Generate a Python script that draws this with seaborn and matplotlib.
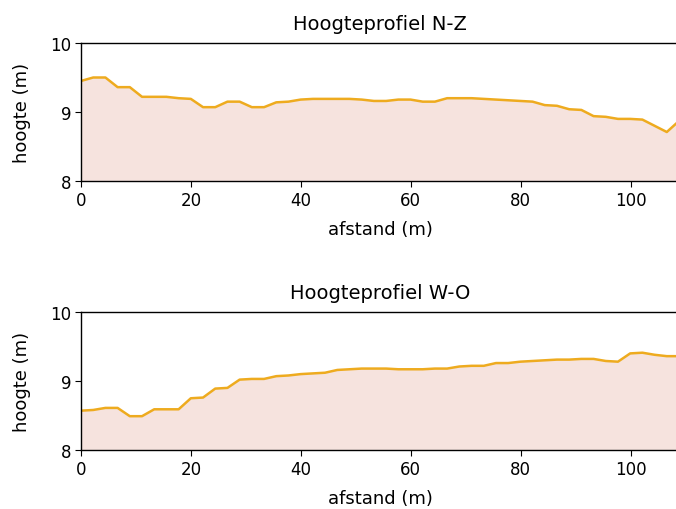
import matplotlib
matplotlib.use("Agg")
import matplotlib.pyplot as plt
import seaborn as sns
import pandas as pd

afstand = [0.0, 2.22, 4.44, 6.66, 8.88, 11.1, 13.32, 15.54, 17.76, 19.98,
           22.2, 24.42, 26.64, 28.86, 31.08, 33.3, 35.52, 37.74, 39.96, 42.18,
           44.4, 46.62, 48.84, 51.06, 53.28, 55.5, 57.72, 59.94, 62.16, 64.38,
           66.6, 68.82, 71.04, 73.26, 75.48, 77.7, 79.92, 82.14, 84.36, 86.58,
           88.8, 91.02, 93.24, 95.46, 97.68, 99.9, 102.12, 104.34, 106.56, 108.78]

hoogte_nz = [9.45, 9.50, 9.50, 9.36, 9.36, 9.22, 9.22, 9.22, 9.20, 9.19,
             9.07, 9.07, 9.15, 9.15, 9.07, 9.07, 9.14, 9.15, 9.18, 9.19,
             9.19, 9.19, 9.19, 9.18, 9.16, 9.16, 9.18, 9.18, 9.15, 9.15,
             9.20, 9.20, 9.20, 9.19, 9.18, 9.17, 9.16, 9.15, 9.10, 9.09,
             9.04, 9.03, 8.94, 8.93, 8.90, 8.90, 8.89, 8.80, 8.71, 8.87]

hoogte_wo = [8.57, 8.58, 8.61, 8.61, 8.49, 8.49, 8.59, 8.59, 8.59, 8.75,
             8.76, 8.89, 8.90, 9.02, 9.03, 9.03, 9.07, 9.08, 9.10, 9.11,
             9.12, 9.16, 9.17, 9.18, 9.18, 9.18, 9.17, 9.17, 9.17, 9.18,
             9.18, 9.21, 9.22, 9.22, 9.26, 9.26, 9.28, 9.29, 9.30, 9.31,
             9.31, 9.32, 9.32, 9.29, 9.28, 9.40, 9.41, 9.38, 9.36, 9.36]

titels = ["Hoogteprofiel N-Z", "Hoogteprofiel W-O"]
y_ticks = [8, 9, 10]
x_ticks = [0, 20, 40, 60, 80, 100]

sns.set_style("ticks")
plt.rcParams['font.family'] = ['DejaVu Sans']
plt.rcParams['text.color'] = 'black'
plt.rcParams['axes.labelcolor'] = 'black'
plt.rcParams['xtick.color'] = 'black'
plt.rcParams['ytick.color'] = 'black'

fig = plt.figure(figsize=(6.76, 5.1), dpi=100)
W, H = 676, 510
boxes = [(81, 44, 679, 182), (81, 313, 679, 451)]

line_color = "#EEAB1F"
fill_color = "#F6E3DE"

for (x0, yt, x1, yb), title, vals in zip(boxes, titels, [hoogte_nz, hoogte_wo]):
    ax = fig.add_axes([x0 / W, 1 - yb / H, (x1 - x0) / W, (yb - yt) / H])
    df = pd.DataFrame({"afstand": afstand, "hoogte": vals})
    ax.fill_between(df["afstand"], df["hoogte"], 8, color=fill_color, linewidth=0)
    sns.lineplot(data=df, x="afstand", y="hoogte", ax=ax, color=line_color,
                 linewidth=1.8)
    ax.set_xlim(0, afstand[-1])
    ax.set_ylim(8, 10)
    ax.set_yticks(y_ticks)
    ax.set_xticks(x_ticks)
    ax.tick_params(labelsize=12, length=4, pad=3)
    ax.set_title(title, fontsize=14, pad=10)
    ax.set_xlabel("afstand (m)", fontsize=13, labelpad=8)
    ax.set_ylabel("hoogte (m)", fontsize=13, labelpad=14)
    for s in ax.spines.values():
        s.set_linewidth(1.0)
        s.set_color("black")

fig.savefig("out.png", dpi=100)
